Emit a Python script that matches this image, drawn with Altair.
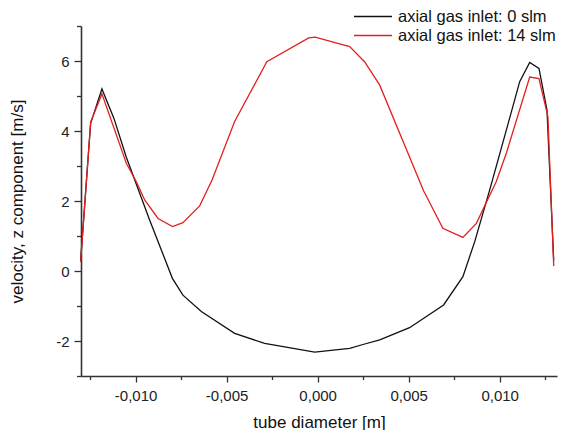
import altair as alt
import pandas as pd

# tube diameter positions [m] and z-velocity [m/s]
x_0slm = [-0.01302, -0.01247, -0.01185, -0.01119, -0.01051, -0.00923, -0.00798, -0.00740,
          -0.00639, -0.00456, -0.00291, -0.00016, 0.00176, 0.00249, 0.00341, 0.00505,
          0.00692, 0.00798, 0.00863, 0.00945, 0.01037, 0.01110, 0.01165, 0.01216,
          0.01260, 0.01297]
v_0slm = [0.30, 4.22, 5.20, 4.36, 3.25, 1.46, -0.21, -0.69,
          -1.16, -1.78, -2.07, -2.32, -2.21, -2.10, -1.97, -1.62,
          -0.97, -0.16, 0.84, 2.31, 4.03, 5.41, 5.96, 5.79,
          4.60, 0.30]

x_14slm = [-0.01302, -0.01247, -0.01185, -0.01051, -0.00996, -0.00950, -0.00877, -0.00797,
           -0.00740, -0.00648, -0.00580, -0.00456, -0.00279, -0.00049, -0.00014, 0.00176,
           0.00258, 0.00341, 0.00582, 0.00688, 0.00798, 0.00872, 0.00981, 0.01037,
           0.01165, 0.01216, 0.01265, 0.01297]
v_14slm = [0.26, 4.26, 5.06, 3.08, 2.55, 2.03, 1.50, 1.27,
           1.38, 1.86, 2.60, 4.27, 5.98, 6.66, 6.68, 6.41,
           5.98, 5.31, 2.29, 1.22, 0.96, 1.36, 2.55, 3.37,
           5.54, 5.50, 4.41, 0.14]

series_names = ["axial gas inlet: 0 slm", "axial gas inlet: 14 slm"]
series_colors = ["#111111", "#e41f1f"]

x_ticks = [-0.0125, -0.010, -0.0075, -0.005, -0.0025, 0.0, 0.0025, 0.005, 0.0075, 0.010, 0.0125]
y_ticks = [-3, -2, -1, 0, 1, 2, 3, 4, 5, 6, 7]

df = pd.concat([
    pd.DataFrame({"x": x_0slm, "v": v_0slm, "series": series_names[0], "order": range(len(x_0slm))}),
    pd.DataFrame({"x": x_14slm, "v": v_14slm, "series": series_names[1], "order": range(len(x_14slm))}),
])

FONT = "Liberation Sans"

chart = alt.Chart(df).mark_line(strokeWidth=1.3).encode(
    x=alt.X("x:Q",
            scale=alt.Scale(domain=[-0.013, 0.01315], nice=False, zero=False),
            axis=alt.Axis(
                title="tube diameter [m]",
                values=x_ticks,
                labelExpr="abs(round(datum.value*2000)) % 2 == 0 ? ((datum.value < -1e-9 ? '-' : '') + replace(format(abs(datum.value), '.3f'), '.', ',')) : ''",
                tickSize={"condition": {"test": "abs(round(datum.value*2000)) % 2 == 0", "value": 6}, "value": 3.5},
                grid=False, labelFlush=False, labelOverlap=False,
                labelPadding=6, titlePadding=11,
            )),
    y=alt.Y("v:Q",
            scale=alt.Scale(domain=[-3, 7], nice=False, zero=False),
            axis=alt.Axis(
                title="velocity, z component [m/s]",
                values=y_ticks,
                labelExpr="datum.value % 2 == 0 ? ((datum.value < 0 ? '-' : '') + format(abs(datum.value), 'd')) : ''",
                tickSize={"condition": {"test": "datum.value % 2 == 0", "value": 7}, "value": 4.5},
                grid=False, labelFlush=False, labelOverlap=False,
                labelPadding=5, titlePadding=29,
            )),
    color=alt.Color("series:N",
                    scale=alt.Scale(domain=series_names, range=series_colors),
                    legend=alt.Legend(orient="none", legendX=272, legendY=-20, title=None,
                                      symbolType="M-1,0H3", symbolSize=361, symbolStrokeWidth=1.3,
                                      labelFontSize=16.5, labelFont=FONT, labelColor="#111",
                                      labelLimit=400, labelOffset=24, rowPadding=-1, padding=0)),
    detail="series:N",
    order="order:Q",
).properties(
    width=476, height=350,
    padding={"left": 73, "top": 18, "right": 8, "bottom": 54},
    autosize="none",
).configure_view(stroke=None).configure_axis(
    domainColor="#333", domainWidth=1.6, tickColor="#333", tickWidth=1.3,
    labelFont=FONT, labelFontSize=15, labelColor="#222",
    titleFont=FONT, titleFontSize=17, titleFontWeight="normal", titleColor="#111",
)

chart.save("out.html", embed_options={"renderer": "svg", "actions": False})
